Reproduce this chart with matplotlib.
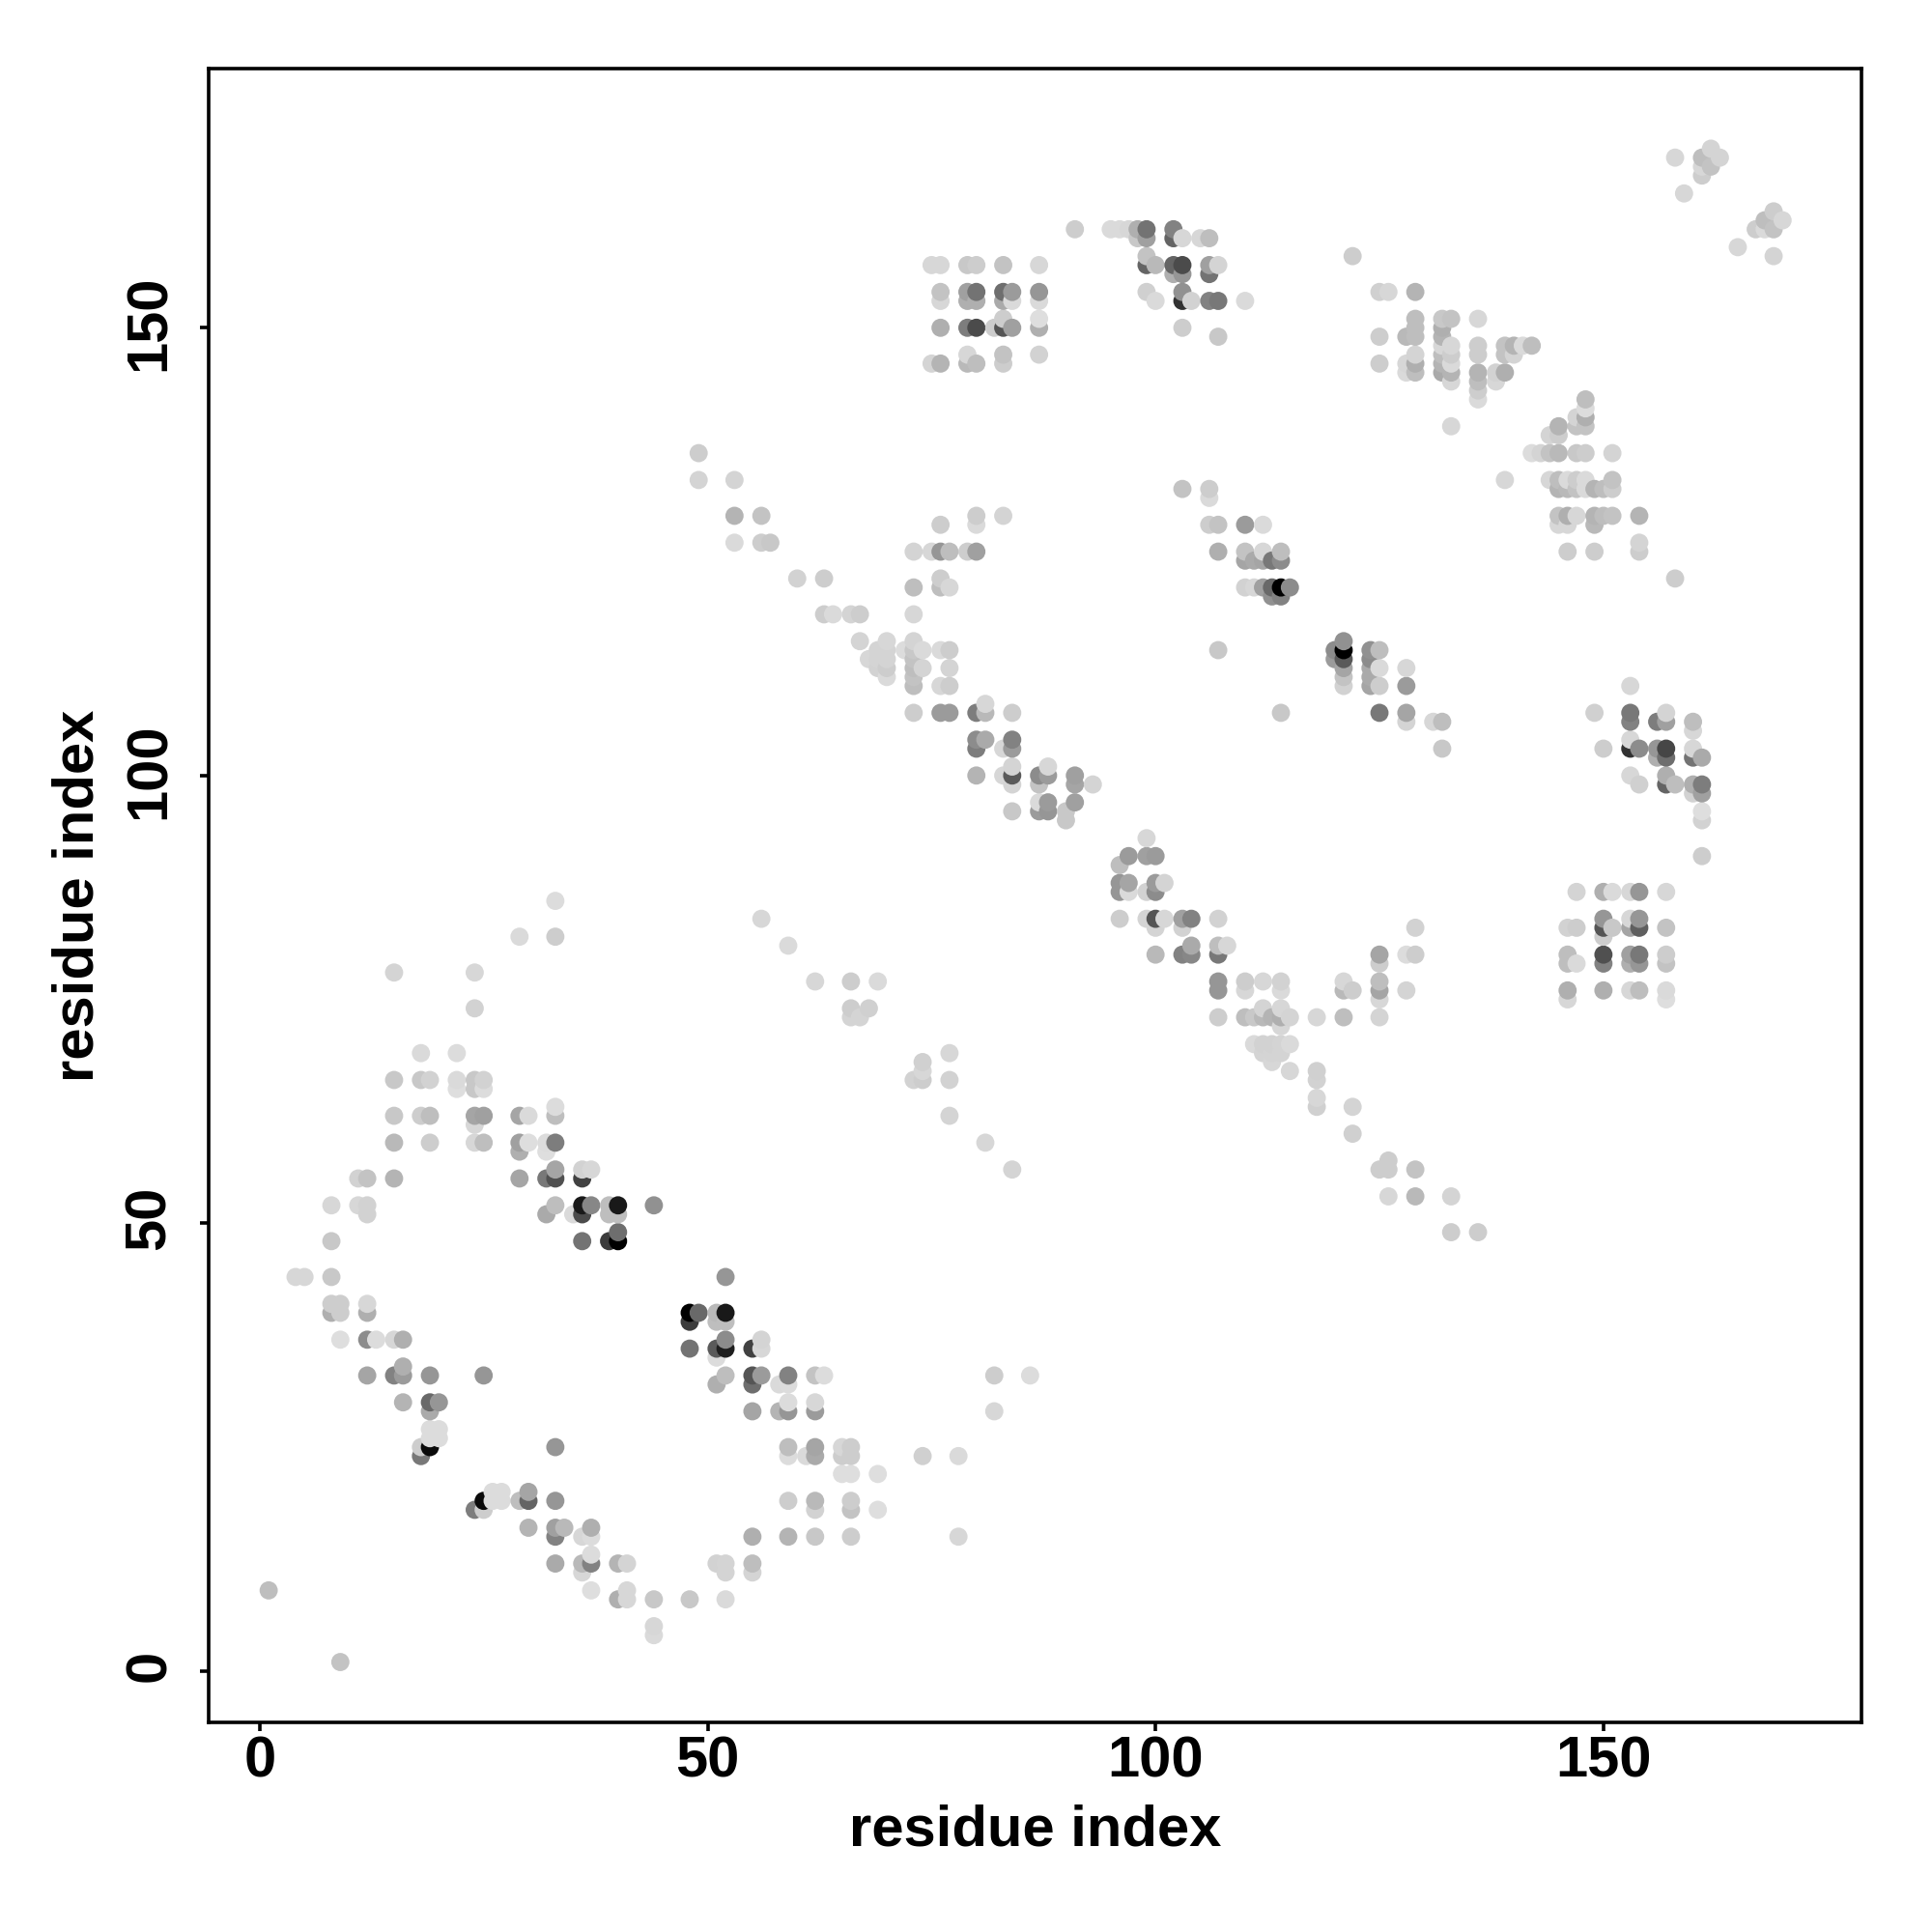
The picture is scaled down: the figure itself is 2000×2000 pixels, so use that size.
import matplotlib
matplotlib.use("Agg")
import matplotlib.pyplot as plt
from matplotlib.transforms import ScaledTranslation
import numpy as np

# contact map, one entry per row of residue y: x indices and grey level (0-255)
rows_y = [
    1, 4, 5, 8, 9, 11, 12, 13, 15, 16, 18, 19, 20, 22, 24, 25, 26, 27, 29, 30,
    32, 33, 34, 35, 36, 37, 39, 40, 41, 44, 48, 49, 51, 52, 53, 55, 56, 58, 59,
    61, 62, 63, 65, 66, 69, 74, 78, 82, 84, 86,
]
rows_x = [
    [9], [44], [44], [40, 41, 44, 48, 52], [1, 37, 41], [36, 52, 55],
    [33, 36, 37, 40, 41, 51, 52, 55], [37], [33, 36, 37, 55, 59, 62, 66, 78],
    [30, 33, 34, 37], [24, 25, 62, 66, 69], [25, 26, 27, 29, 30, 33, 59, 62, 66],
    [26, 27, 30], [65, 66, 69], [18, 59, 61, 62, 65, 66, 74, 78],
    [18, 19, 33, 59, 62, 65, 66], [19, 20], [19, 20], [19, 55, 58, 59, 62, 82],
    [16, 19, 20, 59, 62], [51, 55, 58, 59], [12, 15, 16, 19, 25, 52, 55, 56, 59, 62, 63, 82, 86],
    [16], [51], [48, 51, 52, 55, 56], [9, 12, 13, 15, 16, 52, 56],
    [48, 51, 52], [8, 9, 12, 48, 49, 51, 52], [8, 9, 12], [4, 5, 8, 52],
    [8, 36, 39, 40], [40], [12, 32, 35, 36, 39, 40], [8, 11, 12, 33, 36, 37, 39, 40, 44],
    [], [11, 12, 15, 29, 32, 33, 36], [33, 36, 37], [29, 32], [15, 19, 24, 25, 29, 30, 32, 33],
    [24], [15, 18, 19, 24, 25, 29, 30, 33], [33], [22, 24, 25], [15, 18, 19, 22, 24, 25],
    [18, 22], [24], [15, 24], [29, 33], [56], [33],
]
rows_grey = [
    [195], [218], [215], [175, 215, 200, 200, 218], [190, 222, 215], [215, 212, 212],
    [170, 185, 130, 180, 212, 210, 212, 190], [220], [130, 215, 220, 175, 180, 200, 205, 215],
    [180, 160, 185, 175], [125, 205, 210, 195, 222], [10, 220, 220, 190, 100, 150, 205, 185, 205],
    [220, 220, 165], [222, 222, 222], [120, 220, 218, 170, 205, 205, 208, 218],
    [205, 10, 150, 190, 165, 215, 205], [220, 220], [220, 220], [170, 165, 180, 150, 155, 215],
    [180, 105, 150, 220, 215], [175, 110, 218, 220], [165, 130, 155, 150, 150, 190, 85, 155, 130, 195, 220, 205, 220],
    [175], [220], [115, 90, 30, 65, 215], [222, 140, 220, 215, 175, 140, 212],
    [60, 190, 190], [175, 205, 175, 0, 105, 185, 25], [205, 205, 215], [215, 215, 200, 150],
    [200, 115, 60, 0], [110], [210, 170, 218, 75, 190, 190], [215, 215, 210, 190, 25, 135, 190, 25, 145],
    [], [210, 195, 180, 165, 120, 80, 65], [165, 210, 215], [175, 222], [185, 205, 215, 190, 160, 222, 220, 125],
    [215], [200, 205, 190, 165, 160, 165, 218, 190], [220], [222, 200, 220], [200, 200, 210, 218, 200, 210],
    [218, 220], [210], [212, 215], [218, 205], [215], [220],
]

# sparse diagonal between the lower blocks
link_y = [56, 59, 62, 66, 67, 68, 69, 73, 74, 77, 81]
link_x = [[84], [81], [77], [73, 74, 77], [74], [74], [77], [66, 67], [66, 68], [62, 66, 69], [59]]
link_grey = [
    [212], [215], [212], [210, 205, 210], [215], [208], [215],
    [212, 212], [205, 208], [215, 205, 218], [218],
]

# middle band
band_y = [
    49, 53, 56, 57, 60, 63, 64, 66, 67, 68, 69, 70, 72, 73, 74, 75, 76, 77, 79, 80,
    81, 83, 84, 87, 88, 90, 91, 93, 95, 96, 97, 98, 99, 100, 101, 103, 104, 106, 107,
    108, 110, 111, 112, 113, 114, 115, 118, 120, 121, 122, 124, 125, 126, 128, 129,
    131, 132, 133, 136,
]
band_x = [
    [133, 136], [126, 129, 133], [125, 126, 129], [126], [122], [118, 122], [118], [118],
    [115, 118], [113], [112, 113, 114], [111, 112, 113, 114, 115], [114],
    [107, 110, 111, 112, 113, 114, 115, 118, 121, 125], [112, 114], [125],
    [107, 110, 114, 121, 122, 125, 128], [107, 110, 112, 114, 121, 125], [125],
    [100, 103, 104, 107, 125, 128, 129], [104, 107, 108], [100, 103, 129],
    [96, 99, 100, 101, 103, 104, 107], [96, 97, 99, 100], [96, 97, 100, 101], [96],
    [97, 99, 100], [99], [90], [84, 87, 88, 90], [87, 88, 91], [], [84, 87, 91, 93],
    [80, 83, 84, 87, 88, 91], [84, 88], [80, 83, 84, 132], [80, 81, 84], [128, 131, 132],
    [73, 76, 77, 80, 81, 84, 114, 125, 128], [81], [73, 76, 77, 121, 124, 125, 128],
    [70, 73, 121, 124], [69, 70, 73, 74, 77, 121, 124, 125, 128], [68, 69, 70, 73, 120, 121, 124],
    [69, 70, 72, 73, 74, 76, 77, 107, 120, 121, 124, 125], [67, 70, 73, 121], [63, 64, 66, 67, 73],
    [113, 114], [73, 76, 77, 110, 111, 112, 113, 114, 115], [60, 63, 76],
    [110, 111, 112, 113, 114], [73, 75, 76, 77, 79, 80, 107, 110, 112, 114], [53, 56, 57],
    [76, 80, 106, 107, 110, 112], [53, 56, 80, 83], [106], [103, 106], [49, 53], [49],
]
band_grey = [
    [205, 205], [215, 185, 212], [205, 205, 195], [205], [208], [208, 212], [215], [210],
    [215, 208], [215], [212, 212, 212], [218, 210, 210, 212, 218], [215],
    [205, 190, 200, 185, 180, 175, 212, 215, 190, 212], [212, 215], [215],
    [150, 215, 218, 185, 205, 165, 212], [150, 205, 215, 210, 215, 190], [205],
    [185, 130, 135, 120, 165, 220, 205], [170, 190, 215], [212, 210, 210],
    [205, 212, 85, 215, 160, 130, 210], [150, 218, 210, 140], [150, 165, 155, 212], [190],
    [155, 160, 155], [215], [200], [200, 155, 150, 200], [218, 155, 160], [], [212, 195, 165, 212],
    [180, 215, 90, 140, 155, 160], [212, 215], [125, 215, 155, 200], [140, 170, 130], [212, 215, 190],
    [205, 155, 155, 125, 185, 205, 200, 120, 165], [215], [190, 215, 205, 210, 165, 205, 155],
    [218, 195, 195, 170], [210, 205, 190, 212, 212, 165, 170, 218, 215], [215, 212, 212, 195, 155, 90, 140],
    [212, 212, 220, 200, 218, 218, 205, 200, 140, 0, 145, 190], [212, 215, 212, 145], [205, 218, 212, 205, 215],
    [145, 130], [190, 190, 215, 210, 215, 160, 105, 0, 140], [210, 205, 205],
    [165, 170, 165, 120, 140], [212, 215, 150, 190, 205, 160, 175, 195, 215, 190], [218, 205, 200],
    [205, 218, 205, 195, 155, 218], [180, 195, 205, 212], [218], [195, 205], [212, 212], [205],
]

# upper right blocks
upper_y = [
    75, 76, 79, 80, 82, 83, 84, 87, 91, 95, 96, 98, 99, 100, 102, 103, 104, 105, 106, 107,
    110, 122, 125, 126, 128, 129, 132, 133, 136, 138, 139, 140, 141, 142, 143, 144, 145,
    146, 147, 148, 149, 150, 151, 153, 154, 156, 157, 158, 159, 160, 161, 162, 163, 165,
    167, 168, 169, 170,
]
upper_x = [
    [146, 157], [146, 150, 153, 154, 157], [146, 147, 150, 153, 154, 157], [146, 150, 153, 154, 157],
    [150], [146, 147, 150, 151, 153, 154, 157], [150, 153, 154], [147, 150, 151, 153, 154, 157],
    [161], [161], [161], [160, 161], [154, 157, 158, 160, 161], [153, 157],
    [156, 157, 160, 161], [150, 153, 154, 156, 157, 160], [153], [160], [153, 156, 157, 160],
    [149, 153, 157], [153], [158], [146, 149, 154], [154], [145, 146, 149], [145, 146, 147, 149, 150, 151, 154],
    [145, 146, 147, 148, 149, 150, 151], [139, 144, 145, 146, 147, 148, 151],
    [142, 143, 144, 145, 147, 148, 151], [144, 145], [133, 145, 147, 148], [147, 148], [148], [136, 148],
    [136], [133, 136, 138], [128, 129, 132, 133, 136, 138, 139], [75, 76, 79, 80, 83, 125, 128, 129, 132, 133],
    [79, 83, 87, 129, 132, 133, 136, 139, 140], [132, 133, 136, 139, 140, 141, 142],
    [107, 125, 128, 129, 132], [76, 79, 80, 82, 83, 84, 87, 103, 129, 132], [83, 87, 129, 132, 133, 136],
    [76, 79, 80, 83, 84, 87, 100, 103, 104, 106, 107, 110], [76, 79, 80, 83, 84, 87, 99, 103, 125, 126, 129],
    [102, 103, 106], [75, 76, 79, 80, 83, 87, 99, 100, 102, 103, 106, 107], [99, 122, 169],
    [165], [98, 99, 102, 103, 105, 106], [91, 95, 96, 97, 98, 99, 102, 167, 168, 169],
    [168, 170], [169], [159], [161], [161, 162], [158, 161, 163], [162],
]
upper_grey = [
    [215, 222], [175, 175, 215, 190, 218], [190, 218, 130, 175, 150, 195], [190, 80, 160, 120, 205],
    [205], [210, 205, 85, 200, 165, 95, 195], [150, 215, 150], [212, 175, 218, 215, 150, 215],
    [205], [210], [222], [210, 160], [208, 100, 190, 175, 125], [215, 175],
    [175, 110, 115, 170], [205, 50, 140, 150, 70, 215], [215], [215], [130, 125, 160, 190],
    [208, 120, 212], [215], [205], [205, 205, 205], [212], [215, 215, 185], [195, 175, 215, 180, 190, 195, 180],
    [180, 185, 195, 218, 180, 190, 205], [215, 215, 190, 218, 205, 218, 195],
    [220, 212, 195, 185, 200, 205, 212], [212, 205], [215, 180, 195, 195], [212, 175], [220], [218, 190],
    [205], [215, 190, 215], [218, 190, 170, 180, 180, 210, 175], [212, 180, 185, 190, 205, 205, 215, 175, 180, 218],
    [215, 195, 210, 212, 190, 205, 205, 195, 212], [215, 215, 205, 195, 180, 218, 190],
    [200, 205, 185, 190, 180], [175, 125, 75, 205, 85, 160, 175, 205, 190, 175], [205, 222, 190, 200, 195, 215],
    [215, 175, 175, 170, 218, 218, 218, 50, 210, 130, 120, 218], [195, 160, 115, 110, 155, 150, 208, 145, 208, 215, 180],
    [175, 150, 115], [215, 215, 200, 205, 195, 215, 100, 185, 100, 75, 160, 212], [195, 205, 212],
    [215], [200, 160, 100, 215, 215, 190], [205, 218, 218, 215, 175, 115, 130, 205, 218, 195],
    [190, 215], [205], [215], [205], [215, 195], [215, 190, 212], [212],
]


def main():
    xs, ys, greys = [], [], []
    all_y = rows_y + link_y + band_y + upper_y
    all_x = rows_x + link_x + band_x + upper_x
    all_grey = rows_grey + link_grey + band_grey + upper_grey
    for yy, xx, gg in zip(all_y, all_x, all_grey):
        for a, b in zip(xx, gg):
            xs.append(a)
            ys.append(yy)
            greys.append(b)
    xs = np.array(xs)
    ys = np.array(ys)
    greys = np.array(greys) / 255.0

    # overplotting goes by x, then by y
    order = np.lexsort((ys, xs))

    plt.rcParams["font.family"] = ["Liberation Sans", "DejaVu Sans"]
    plt.rcParams["font.weight"] = "bold"
    fig = plt.figure(figsize=(10, 10), dpi=200)
    ax = fig.add_axes([0.108, 0.1084, 0.8557, 0.8559])
    ax.scatter(xs[order], ys[order], s=46, c=[str(g) for g in greys[order]], linewidths=0)

    ax.set_xlim(-5.7, 178.85)
    ax.set_ylim(-5.76, 178.9)
    ax.set_xticks([0, 50, 100, 150])
    ax.set_yticks([0, 50, 100, 150])
    ax.tick_params(length=3.4, width=1.3, labelsize=21.5)
    ax.tick_params(axis="x", pad=1.5)
    ax.tick_params(axis="y", pad=8.6)
    shift = ScaledTranslation(0, 5 / 200, fig.dpi_scale_trans)
    for t in ax.get_yticklabels():
        t.set_rotation(90)
        t.set_va("center")
        t.set_transform(t.get_transform() + shift)
    ax.set_xlabel("residue index", fontsize=21.5, fontweight="bold", labelpad=5.8)
    ax.set_ylabel("residue index", fontsize=21.5, fontweight="bold", labelpad=7)
    for sp in ax.spines.values():
        sp.set_linewidth(1.3)

    fig.savefig("out.png", dpi=200)
    plt.close(fig)


if __name__ == "__main__":
    main()
